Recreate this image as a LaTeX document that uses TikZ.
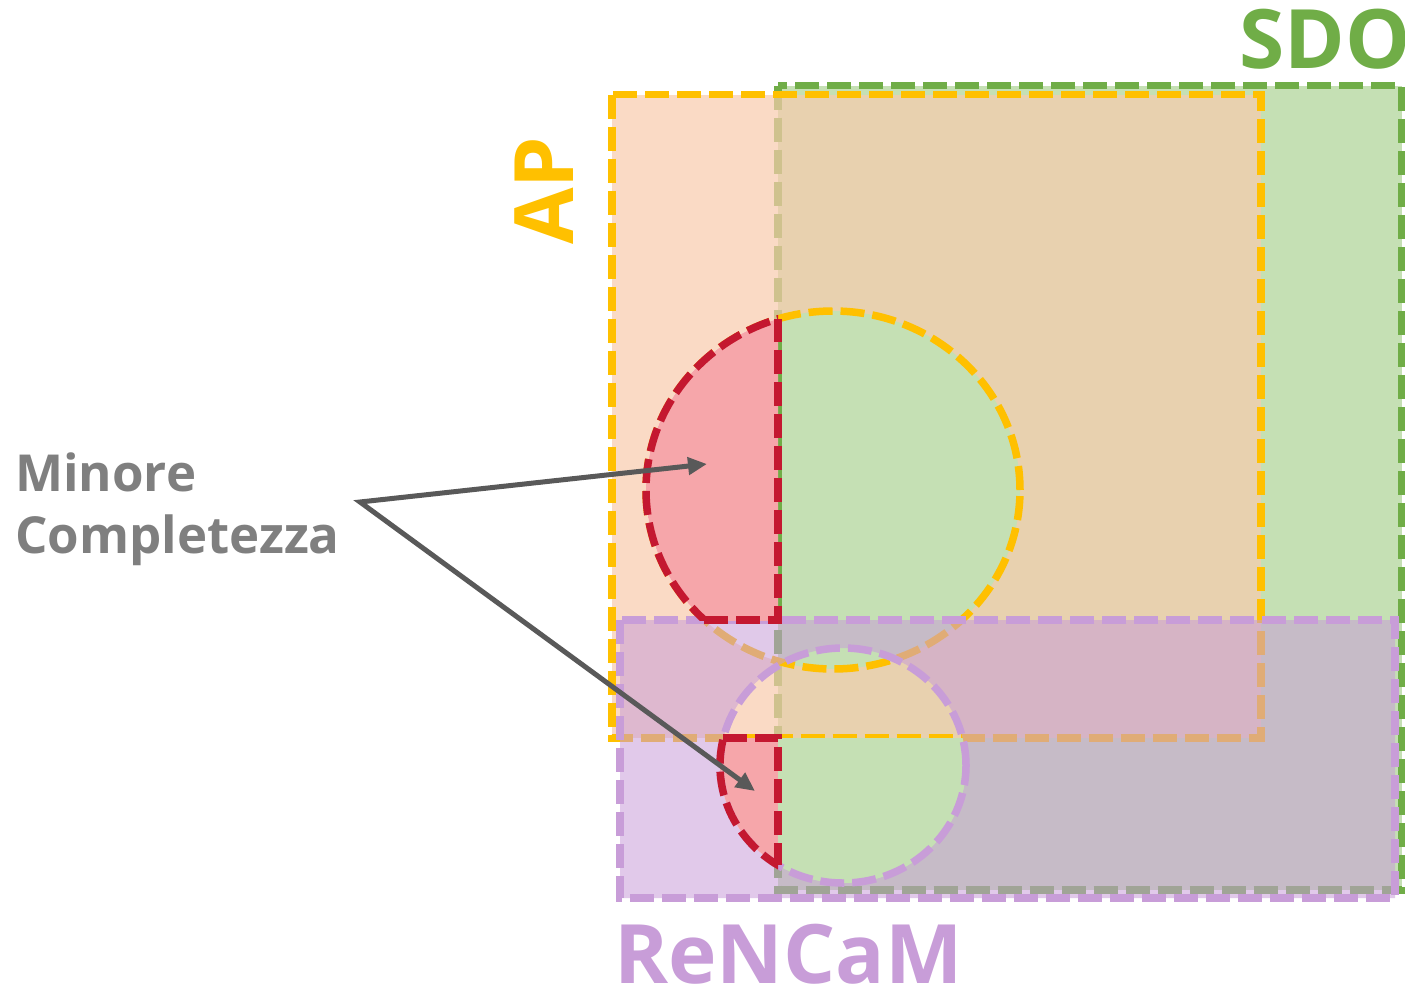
\documentclass[tikz,border=0pt]{standalone}
\usepackage{fontspec}
\setmainfont{Open Sans}
\usetikzlibrary{arrows.meta}

\definecolor{sdoline}{HTML}{70AD47}
\definecolor{sdofill}{HTML}{C5E0B4}
\definecolor{apline}{HTML}{FFC000}
\definecolor{apfill}{HTML}{F8CBAD}
\definecolor{purpline}{HTML}{C89DD8}
\definecolor{redline}{HTML}{C41830}
\definecolor{redfill}{HTML}{F6A6AA}
\definecolor{arrowgray}{HTML}{595959}
\definecolor{txtgray}{HTML}{7F7F7F}

\tikzset{
  dashline/.style={line width=7.5pt, dash pattern=on 24pt off 8pt},
  bigell/.style={x radius=187pt, y radius=179pt},
  smallell/.style={x radius=123pt, y radius=117.5pt},
  pointer/.style={draw=arrowgray, line width=5pt, line join=miter,
    {Triangle[length=19pt,width=17pt]}-{Triangle[length=19pt,width=17pt]}},
  setlabel/.style={inner sep=0pt, anchor=base west,
    font=\bfseries\fontsize{82}{90}\selectfont},
  notelabel/.style={inner sep=0pt, anchor=base west, text=txtgray,
    font=\bfseries\fontsize{51}{62}\selectfont},
}

\begin{document}
\begin{tikzpicture}[x=1pt,y=-1pt]
\useasboundingbox (0,0) rectangle (1405,990);

\coordinate (bigc) at (833,490);
\coordinate (smallc) at (843,765.5);

% SDO set
\fill[sdofill] (778,85.5) rectangle (1402,890);
\draw[dashline, sdoline] (778,85.5) rectangle (1402,890);

% AP set
\fill[apfill, fill opacity=0.7] (612,94.5) rectangle (1261,738);
\draw[dashline, apline] (612,94.5) rectangle (1261,738);

% large disc: white outside SDO, green inside SDO
\begin{scope}
  \clip (0,0) rectangle (778,990);
  \fill[white] (bigc) ellipse [bigell];
\end{scope}
\begin{scope}
  \clip (778,0) rectangle (1405,990);
  \fill[sdofill] (bigc) ellipse [bigell];
\end{scope}
\begin{scope}
  \clip (bigc) ellipse [bigell];
  \draw[dashline, sdoline] (778,85.5) rectangle (1402,890);
\end{scope}
\draw[dashline, apline] (bigc) ellipse [bigell];

% ReNCaM set, open over the small disc
\fill[purpline, fill opacity=0.55, even odd rule]
  (620,620) rectangle (1395,898) (smallc) ellipse [smallell];
\draw[dashline, purpline] (620,620) rectangle (1395,898);

% missing part of the large disc
\begin{scope}
  \clip (0,0) rectangle (778,620);
  \fill[redfill] (bigc) ellipse [bigell];
  \draw[dashline, redline] (bigc) ellipse [bigell];
\end{scope}
\draw[dashline, redline] (704.4,620) -- (778,620) -- (778,319);

% small disc
\begin{scope}
  \clip (smallc) ellipse [smallell];
  \fill[sdofill] (778,738) rectangle (1000,900);
  \fill[redfill] (600,738) rectangle (778,900);
\end{scope}
\draw[dashline, purpline] (smallc) ellipse [smallell];
\begin{scope}
  \clip (0,738) rectangle (778,990);
  \draw[dashline, redline] (smallc) ellipse [smallell];
\end{scope}
\draw[dashline, redline] (723.4,738) -- (778,738) -- (778,865);

% pointers
\coordinate (fork) at (360,502);
\coordinate (tipA) at (707,464);
\coordinate (tipB) at (755,791);
\draw[pointer] (tipA) -- (fork) -- (tipB);

% labels
\node[notelabel] (minore) at (15,491) {Minore};
\node[notelabel] (compl) at (15,553) {Completezza};
\node[setlabel, text=sdoline] (sdo) at (1239,69) {SDO};
\node[setlabel, text=apline, rotate=90] (ap) at (573,245) {AP};
\node[setlabel, text=purpline] (rencam) at (614,983) {ReNCaM};
\end{tikzpicture}
\end{document}
